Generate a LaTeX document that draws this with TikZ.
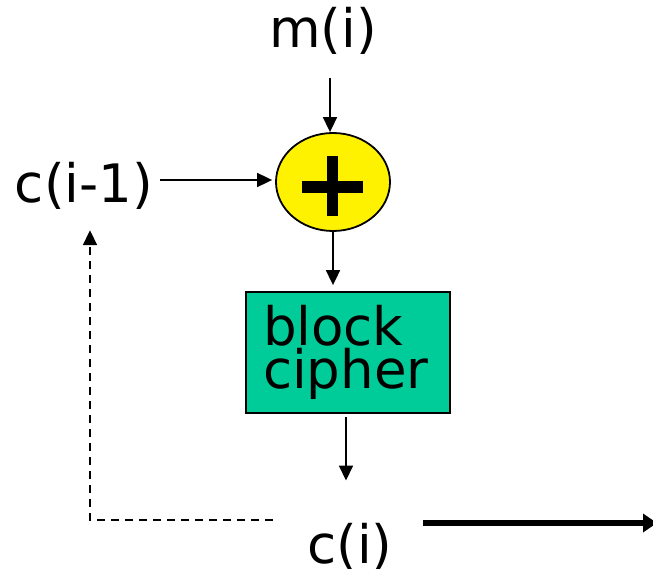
\documentclass[tikz,border=0pt]{standalone}
\usepackage{fontspec}
\setmainfont{DejaVu Sans}
\usetikzlibrary{arrows.meta,shapes.geometric}
\definecolor{boxteal}{HTML}{00CC99}
\tikzset{
  lbl/.style={font=\fontsize{53}{43}\selectfont, inner sep=0pt},
  arr/.style={line width=1.8pt, -{Triangle[length=15pt,width=14pt]}},
  thickarr/.style={line width=6pt, -{Triangle[length=14pt,width=18pt]}},
  dasharr/.style={line width=1.8pt, dash pattern=on 8pt off 6pt, -{Triangle[length=15pt,width=14pt]}},
}
\begin{document}
\begin{tikzpicture}[x=1pt,y=-1pt]
\useasboundingbox (0,0) rectangle (653,569);
\node[lbl, anchor=base] (mi) at (323,48) {m(i)};
\node[draw, line width=1.8pt, fill=yellow, ellipse, minimum width=114pt, minimum height=98pt, inner sep=0pt] (xor) at (333,182) {};
\draw[line width=12pt] (302,187) -- (363,187);
\draw[line width=11.5pt] (332.5,156) -- (332.5,216);
\node[lbl, anchor=base] (cprev) at (84,203) {c(i-1)};
\node[draw, line width=1.8pt, fill=boxteal, minimum width=204pt, minimum height=121pt, text width=170pt, inner xsep=17pt, align=left, font=\fontsize{53}{43}\selectfont] (bc) at (348,352.5) {block\\cipher};
\node[lbl, anchor=base] (ci) at (350,563) {c(i)};
\coordinate (dstart) at (273,520);
\coordinate (out) at (657,523);
\draw[arr, shorten <=23pt] ([xshift=-3pt]xor.north |- mi.south) -- ([xshift=-3pt]xor.north);
\draw[arr, shorten <=7pt, shorten >=3pt] (cprev.east |- 0,180) -- (xor.west |- 0,180);
\draw[arr, shorten >=6pt] (xor.south) -- (xor.south |- bc.north);
\draw[arr, shorten <=3pt, shorten >=42pt] ([xshift=-2pt]bc.south) -- ([xshift=-2pt]bc.south |- ci.north);
\draw[dasharr, shorten >=20pt] (dstart) -| ([xshift=6pt]cprev.south);
\draw[thickarr, shorten <=30pt] (ci.east |- out) -- (out);
\end{tikzpicture}
\end{document}
